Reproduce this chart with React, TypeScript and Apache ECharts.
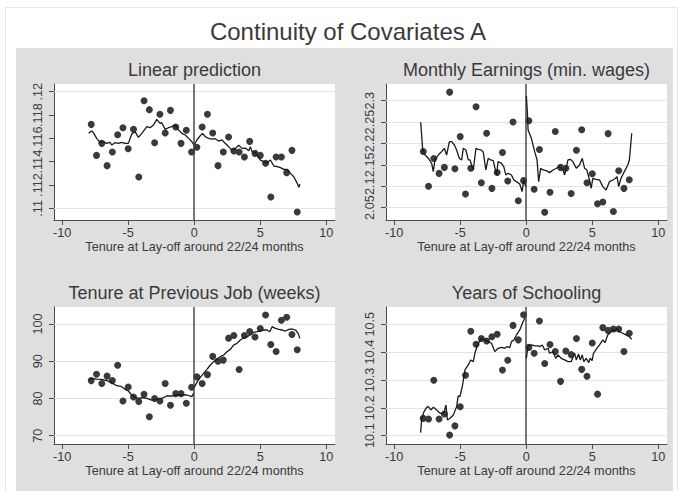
import React, { useEffect, useRef } from "react";
import * as echarts from "echarts";

// Bin centres of the running variable (tenure at lay-off, months around cutoff)
const binX = [
  -7.8, -7.4, -7.0, -6.6, -6.2, -5.8, -5.4, -5.0, -4.6, -4.2,
  -3.8, -3.4, -3.0, -2.6, -2.2, -1.8, -1.4, -1.0, -0.6, -0.2,
  0.2, 0.6, 1.0, 1.4, 1.8, 2.2, 2.6, 3.0, 3.4, 3.8,
  4.2, 4.6, 5.0, 5.4, 5.8, 6.2, 6.6, 7.0, 7.4, 7.8,
];
const xTicks = [-10, -5, 0, 5, 10];

// Linear prediction
const predTicks = [0.11, 0.112, 0.114, 0.116, 0.118, 0.12];
const predDots = [
  0.1172, 0.11454, 0.11557, 0.11366, 0.11483, 0.11631, 0.11691, 0.11511, 0.11677, 0.11269,
  0.11923, 0.11846, 0.11563, 0.11806, 0.11646, 0.1184, 0.11697, 0.11557, 0.11669, 0.11483,
  0.11523, 0.11697, 0.11806, 0.11646, 0.11366, 0.11483, 0.11611, 0.11491, 0.11483, 0.1144,
  0.11574, 0.11471, 0.11454, 0.11386, 0.11097, 0.1144, 0.1144, 0.11306, 0.11497, 0.10969,
];
const predLeft = [
  [-8.0, 0.11643], [-7.77, 0.11663], [-7.65, 0.11651], [-7.39, 0.116], [-7.14, 0.11566],
  [-6.89, 0.11571], [-6.63, 0.11557], [-6.38, 0.11566], [-6.25, 0.11543], [-6.0, 0.11563],
  [-5.75, 0.11557], [-5.49, 0.11566], [-5.24, 0.11557], [-4.99, 0.11557], [-4.73, 0.11637],
  [-4.48, 0.11657], [-4.23, 0.11609], [-3.97, 0.11643], [-3.59, 0.117], [-3.34, 0.11691],
  [-3.09, 0.11714], [-2.84, 0.11763], [-2.58, 0.11729], [-2.46, 0.11734], [-2.2, 0.11677],
  [-1.95, 0.11691], [-1.7, 0.117], [-1.44, 0.11714], [-1.19, 0.11671], [-0.94, 0.11643],
  [-0.68, 0.11629], [-0.43, 0.116], [-0.18, 0.11571], [-0.02, 0.11543],
];
const predRight = [
  [0.02, 0.11549], [0.2, 0.11586], [0.46, 0.11623], [0.63, 0.11643], [0.84, 0.11614],
  [1.09, 0.116], [1.34, 0.11594], [1.59, 0.11597], [1.85, 0.11577], [2.1, 0.11586],
  [2.23, 0.11571], [2.48, 0.11543], [2.73, 0.11514], [2.86, 0.115], [3.11, 0.11514],
  [3.37, 0.1154], [3.62, 0.11514], [3.87, 0.11517], [4.13, 0.11494], [4.25, 0.11529],
  [4.38, 0.11486], [4.63, 0.11477], [4.76, 0.11457], [5.01, 0.11414], [5.27, 0.114],
  [5.52, 0.11391], [5.77, 0.11414], [6.03, 0.11363], [6.28, 0.11357], [6.53, 0.11349],
  [6.78, 0.11334], [7.04, 0.11334], [7.29, 0.113], [7.54, 0.11271], [7.8, 0.11214],
  [7.92, 0.1118], [8.0, 0.11209],
];

// Monthly earnings (minimum wages)
const earnTicks = [2.05, 2.1, 2.15, 2.2, 2.25, 2.3];
const earnDots = [
  2.181, 2.1, 2.165, 2.13, 2.144, 2.32, 2.141, 2.216, 2.082, 2.142,
  2.286, 2.108, 2.224, 2.095, 2.132, 2.179, 2.112, 2.25, 2.066, 2.113,
  2.253, 2.093, 2.186, 2.039, 2.086, 2.228, 2.144, 2.142, 2.083, 2.184,
  2.232, 2.108, 2.129, 2.059, 2.063, 2.223, 2.041, 2.136, 2.095, 2.115,
];
const earnLeft = [
  [-7.99, 2.2494], [-7.84, 2.1847], [-7.66, 2.173], [-7.41, 2.1653], [-7.16, 2.1536],
  [-7.04, 2.1341], [-6.91, 2.1614], [-6.66, 2.173], [-6.41, 2.1808], [-6.2, 2.1886],
  [-6.03, 2.173], [-5.82, 2.2042], [-5.64, 2.2042], [-5.44, 2.1964], [-5.27, 2.1847],
  [-5.07, 2.1653], [-4.89, 2.1614], [-4.77, 2.1886], [-4.57, 2.1847], [-4.39, 2.1614],
  [-4.26, 2.1614], [-4.01, 2.138], [-3.81, 2.1886], [-3.64, 2.1863], [-3.43, 2.1847],
  [-3.26, 2.1808], [-3.06, 2.138], [-2.88, 2.1653], [-2.7, 2.1614], [-2.5, 2.1598],
  [-2.25, 2.1263], [-2.13, 2.1575], [-1.87, 2.1536], [-1.7, 2.1458], [-1.55, 2.1263],
  [-1.37, 2.1302], [-1.12, 2.1263], [-0.94, 2.1146], [-0.74, 2.1107], [-0.49, 2.1053],
  [-0.31, 2.0874], [-0.19, 2.1146], [-0.04, 2.099],
];
const earnRight = [
  [0.01, 2.3109], [0.09, 2.2704], [0.14, 2.2315], [0.39, 2.212], [0.64, 2.1808],
  [0.82, 2.1614], [0.94, 2.1107], [1.09, 2.1419], [1.27, 2.138], [1.52, 2.1365],
  [1.77, 2.1318], [2.03, 2.138], [2.28, 2.1419], [2.53, 2.1458], [2.78, 2.138],
  [2.91, 2.1263], [3.16, 2.1614], [3.33, 2.1629], [3.53, 2.1575], [3.79, 2.1419],
  [4.04, 2.1497], [4.24, 2.1653], [4.42, 2.1419], [4.59, 2.138], [4.79, 2.1146],
  [4.92, 2.0952], [5.04, 2.1185], [5.3, 2.1162], [5.55, 2.1146], [5.8, 2.099],
  [6.05, 2.0913], [6.3, 2.1107], [6.56, 2.1146], [6.76, 2.1185], [6.88, 2.1224],
  [7.0, 2.099], [7.18, 2.1185], [7.43, 2.1341], [7.69, 2.1497], [7.81, 2.1614],
  [7.99, 2.2237],
];

// Tenure at previous job (weeks)
const tenureTicks = [70, 80, 90, 100];
const tenureDots = [
  84.8, 86.5, 84.0, 86.0, 84.8, 88.9, 79.3, 83.1, 80.4, 79.2,
  81.1, 75.1, 80.0, 79.3, 84.0, 78.2, 81.3, 81.3, 78.7, 83.0,
  85.8, 84.0, 86.4, 91.3, 90.0, 90.3, 96.2, 96.9, 87.8, 96.9,
  98.0, 96.5, 98.8, 102.4, 94.5, 92.6, 101.0, 101.8, 97.2, 93.1,
];
const tenureLeft = [
  [-7.95, 84.96], [-7.77, 85.4], [-7.39, 85.22], [-7.01, 85.13], [-6.63, 84.78],
  [-6.25, 84.24], [-5.87, 83.43], [-5.49, 83.16], [-5.24, 82.45], [-4.99, 82.0],
  [-4.73, 80.93], [-4.48, 80.3], [-4.23, 80.03], [-3.97, 80.21], [-3.59, 80.03],
  [-3.22, 79.58], [-2.84, 79.76], [-2.46, 80.03], [-2.08, 80.66], [-1.7, 80.66],
  [-1.32, 80.93], [-0.94, 80.93], [-0.56, 80.93], [-0.18, 80.48], [-0.05, 81.37],
];
const tenureRight = [
  [0.03, 83.16], [0.2, 84.33], [0.46, 85.67], [0.71, 86.75], [0.96, 87.82],
  [1.22, 88.99], [1.47, 89.89], [1.72, 90.51], [1.97, 91.22], [2.23, 91.67],
  [2.48, 92.57], [2.73, 93.19], [2.99, 94.36], [3.24, 94.81], [3.49, 95.7],
  [3.75, 96.33], [4.0, 96.6], [4.25, 97.04], [4.51, 97.76], [4.76, 97.94],
  [5.01, 98.21], [5.27, 98.39], [5.52, 98.39], [5.72, 97.94], [5.9, 99.28],
  [6.15, 98.84], [6.41, 98.57], [6.66, 98.39], [6.91, 98.12], [7.16, 98.57],
  [7.42, 98.66], [7.67, 98.39], [7.87, 97.49], [8.0, 96.15],
];

// Years of schooling
const schoolTicks = [10.1, 10.2, 10.3, 10.4, 10.5];
const schoolDots = [
  10.162, 10.16, 10.299, 10.16, 10.178, 10.102, 10.135, 10.204, 10.317, 10.475,
  10.428, 10.449, 10.44, 10.455, 10.464, 10.336, 10.371, 10.496, 10.444, 10.534,
  10.417, 10.396, 10.512, 10.359, 10.427, 10.402, 10.295, 10.404, 10.391, 10.449,
  10.338, 10.313, 10.433, 10.249, 10.488, 10.478, 10.483, 10.483, 10.402, 10.468,
];
const schoolLeft = [
  [-8.0, 10.1108], [-7.91, 10.1623], [-7.74, 10.1862], [-7.54, 10.2018], [-7.41, 10.2042],
  [-7.23, 10.1922], [-7.03, 10.2018], [-6.78, 10.1922], [-6.58, 10.1826], [-6.4, 10.1778],
  [-6.23, 10.1826], [-6.08, 10.2102], [-5.97, 10.1563], [-5.77, 10.1623], [-5.52, 10.1743],
  [-5.27, 10.2042], [-5.15, 10.2425], [-5.02, 10.2401], [-4.82, 10.282], [-4.64, 10.3359],
  [-4.39, 10.3539], [-4.21, 10.3719], [-4.01, 10.3659], [-3.89, 10.3958], [-3.64, 10.4317],
  [-3.38, 10.4497], [-3.13, 10.4437], [-2.88, 10.4377], [-2.63, 10.4317], [-2.38, 10.4018],
  [-2.13, 10.4138], [-1.87, 10.4174], [-1.62, 10.4138], [-1.45, 10.4198], [-1.25, 10.4162],
  [-1.12, 10.4377], [-0.94, 10.4437], [-0.74, 10.4617], [-0.49, 10.4796], [-0.29, 10.5036],
  [-0.11, 10.5216],
];
const schoolRight = [
  [0.01, 10.3778], [0.14, 10.4222], [0.39, 10.4257], [0.64, 10.4222], [0.89, 10.4222],
  [1.02, 10.4198], [1.22, 10.4257], [1.4, 10.4078], [1.65, 10.4138], [1.77, 10.3958],
  [2.03, 10.4018], [2.23, 10.3778], [2.4, 10.3898], [2.65, 10.3778], [2.91, 10.3719],
  [3.16, 10.3659], [3.41, 10.3659], [3.66, 10.3958], [3.79, 10.3719], [3.96, 10.3934],
  [4.09, 10.3719], [4.24, 10.3898], [4.36, 10.3659], [4.54, 10.3778], [4.74, 10.3623],
  [4.84, 10.3778], [4.99, 10.3695], [5.09, 10.3958], [5.35, 10.4138], [5.55, 10.4257],
  [5.8, 10.4437], [5.97, 10.4341], [6.17, 10.4617], [6.38, 10.4701], [6.55, 10.482],
  [6.7, 10.4737], [6.86, 10.4856], [7.06, 10.4737], [7.31, 10.4677], [7.56, 10.4617],
  [7.81, 10.4557], [7.99, 10.4461],
];

const FONT = "'Liberation Sans', Arial, Helvetica, sans-serif";
const AXIS_COLOR = "#4d4d4d";
const TEXT_COLOR = "#3a3a3a";
const X_TITLE = "Tenure at Lay-off around 22/24 months";

type Panel = {
  title: string;
  box: { left: number; top: number; width: number; height: number };
  yMin: number;
  yMax: number;
  yTicks: number[];
  dots: number[];
  left: number[][];
  right: number[][];
};

const panels: Panel[] = [
  {
    title: "Linear prediction",
    box: { left: 54, top: 84, width: 281, height: 136 },
    yMin: 0.109, yMax: 0.12066, yTicks: predTicks,
    dots: predDots, left: predLeft, right: predRight,
  },
  {
    title: "Monthly Earnings (min. wages)",
    box: { left: 386, top: 84, width: 281, height: 136 },
    yMin: 2.021, yMax: 2.339, yTicks: earnTicks,
    dots: earnDots, left: earnLeft, right: earnRight,
  },
  {
    title: "Tenure at Previous Job (weeks)",
    box: { left: 54, top: 307, width: 281, height: 137 },
    yMin: 67.77, yMax: 104.57, yTicks: tenureTicks,
    dots: tenureDots, left: tenureLeft, right: tenureRight,
  },
  {
    title: "Years of Schooling",
    box: { left: 386, top: 307, width: 281, height: 137 },
    yMin: 10.07, yMax: 10.562, yTicks: schoolTicks,
    dots: schoolDots, left: schoolLeft, right: schoolRight,
  },
];

// Stata-style tick labels: drop the leading zero of decimals below one
const fmtY = (v: number) => String(+v.toFixed(4)).replace(/^0\./, ".");

function buildOption() {
  const grid: any[] = [];
  const xAxis: any[] = [];
  const yAxis: any[] = [];
  const series: any[] = [];
  const texts: any[] = [];

  panels.forEach((p, i) => {
    grid.push({ ...p.box, show: true, backgroundColor: "#ffffff", borderWidth: 0 });
    xAxis.push({
      gridIndex: i,
      type: "value",
      min: -10.62,
      max: 10.66,
      axisLine: { show: true, onZero: false, lineStyle: { color: AXIS_COLOR, width: 1 } },
      axisTick: { show: true, customValues: xTicks, length: 5, lineStyle: { color: AXIS_COLOR } },
      axisLabel: { customValues: xTicks, margin: 6, fontSize: 12.7, color: TEXT_COLOR, fontFamily: FONT },
      splitLine: { show: false },
      name: X_TITLE,
      nameLocation: "middle",
      nameGap: 20,
      nameTextStyle: { fontSize: 12.7, color: TEXT_COLOR, fontFamily: FONT },
    });
    yAxis.push({
      gridIndex: i,
      type: "value",
      min: p.yMin,
      max: p.yMax,
      axisLine: { show: true, onZero: false, lineStyle: { color: AXIS_COLOR, width: 1 } },
      axisTick: { show: true, customValues: p.yTicks, length: 5, lineStyle: { color: AXIS_COLOR } },
      axisLabel: {
        customValues: p.yTicks,
        rotate: 90,
        margin: 10,
        fontSize: 12.7,
        color: TEXT_COLOR,
        fontFamily: FONT,
        formatter: fmtY,
      },
      splitLine: { show: false },
    });

    series.push({
      type: "scatter",
      xAxisIndex: i,
      yAxisIndex: i,
      data: binX.map((x, k) => [x, p.dots[k]]),
      symbol: "circle",
      symbolSize: 7,
      itemStyle: { color: "#3a3a3a", opacity: 1 },
      z: 3,
      silent: true,
      markLine: {
        silent: true,
        z: 1,
        symbol: "none",
        label: { show: false },
        lineStyle: { type: "solid", color: "#e3e3e3", width: 1 },
        data: p.yTicks.map((v) => ({ yAxis: v })),
      },
    });
    series.push({
      type: "line",
      xAxisIndex: i,
      yAxisIndex: i,
      data: p.left,
      showSymbol: false,
      symbol: "none",
      lineStyle: { color: "#1a1a1a", width: 1.3 },
      z: 4,
      silent: true,
      markLine: {
        silent: true,
        z: 2,
        symbol: "none",
        label: { show: false },
        lineStyle: { type: "solid", color: "#555555", width: 1.6 },
        data: [{ xAxis: 0 }],
      },
    });
    series.push({
      type: "line",
      xAxisIndex: i,
      yAxisIndex: i,
      data: p.right,
      showSymbol: false,
      symbol: "none",
      lineStyle: { color: "#1a1a1a", width: 1.3 },
      z: 4,
      silent: true,
    });

    texts.push({
      type: "text",
      x: p.box.left + p.box.width / 2,
      y: p.box.top - 14,
      z: 10,
      style: {
        text: p.title,
        fontSize: 18,
        fontFamily: FONT,
        fill: TEXT_COLOR,
        textAlign: "center",
        textVerticalAlign: "middle",
      },
    });
  });

  return {
    animation: false,
    backgroundColor: "#ffffff",
    graphic: {
      elements: [
        {
          type: "rect",
          z: -10,
          shape: { x: 5.5, y: 7.5, width: 672, height: 490 },
          style: { fill: "#ffffff", stroke: "#e6e6e6", lineWidth: 1 },
        },
        {
          type: "rect",
          z: -9,
          shape: { x: 16, y: 48, width: 657, height: 450 },
          style: { fill: "#dfdfdf" },
        },
        {
          type: "text",
          x: 348,
          y: 31,
          z: 10,
          style: {
            text: "Continuity of Covariates A",
            fontSize: 24,
            fontFamily: FONT,
            fill: TEXT_COLOR,
            textAlign: "center",
            textVerticalAlign: "middle",
          },
        },
        ...texts,
      ],
    },
    grid,
    xAxis,
    yAxis,
    series,
  };
}

export default function App() {
  const ref = useRef<HTMLDivElement>(null);
  useEffect(() => {
    if (!ref.current) return;
    const chart = echarts.init(ref.current, null, { renderer: "svg" });
    chart.setOption(buildOption() as any);
    return () => chart.dispose();
  }, []);
  return (
    <div
      ref={ref}
      style={{ position: "fixed", left: 0, top: 0, width: 683, height: 491 }}
    />
  );
}
